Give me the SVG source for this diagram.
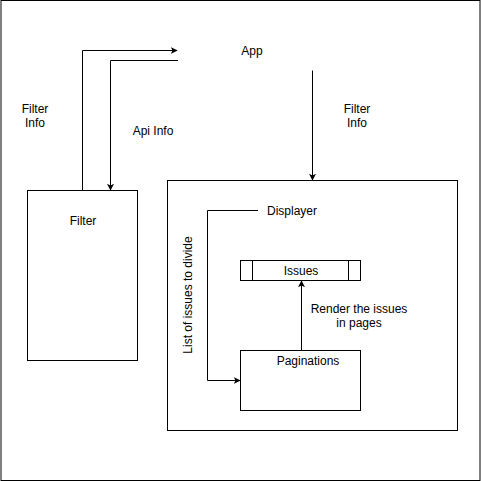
<svg xmlns="http://www.w3.org/2000/svg" width="481" height="481" viewBox="0 0 481 481">
  <style>
    .box { fill: #ffffff; stroke: #000000; stroke-width: 1; }
    .edge { fill: none; stroke: #000000; stroke-width: 1; }
    text { font-family: "Liberation Sans", Arial, Helvetica, sans-serif; font-size: 12px; fill: #000000; text-anchor: middle; }
  </style>
  <defs>
    <marker id="arrow" viewBox="0 0 10 10" refX="9" refY="5" markerWidth="7" markerHeight="7" markerUnits="userSpaceOnUse" orient="auto">
      <path d="M0,0 L10,5 L0,10 L2.5,5 Z" fill="#000000"/>
    </marker>
  </defs>

  <!-- page frame -->
  <rect x="1" y="0.5" width="479" height="480" fill="#ffffff" stroke="#000000"/>

  <!-- App -->
  <g id="app">
    <text x="252" y="55">App</text>
  </g>

  <!-- Filter -->
  <g id="filter">
    <rect class="box" x="27.5" y="190.5" width="110" height="170"/>
    <text x="83" y="225">Filter</text>
  </g>

  <!-- Displayer container -->
  <g id="displayer">
    <rect class="box" x="167.5" y="180.5" width="290" height="250"/>
    <text x="292" y="215">Displayer</text>
  </g>

  <!-- Issues -->
  <g id="issues">
    <rect class="box" x="240.5" y="260.5" width="120" height="20"/>
    <line class="edge" x1="252.5" y1="260.5" x2="252.5" y2="280.5"/>
    <line class="edge" x1="348.5" y1="260.5" x2="348.5" y2="280.5"/>
    <text x="301" y="274.5">Issues</text>
  </g>

  <!-- Paginations -->
  <g id="paginations">
    <rect class="box" x="240.5" y="350.5" width="120" height="60"/>
    <text x="308" y="365">Paginations</text>
  </g>

  <!-- connectors -->
  <g id="connectors">
    <!-- Filter -> App -->
    <path class="edge" d="M82.5,190.5 V50.5 H177" marker-end="url(#arrow)"/>
    <!-- App -> Filter -->
    <path class="edge" d="M178,60.5 H110.5 V190" marker-end="url(#arrow)"/>
    <!-- App -> Displayer -->
    <path class="edge" d="M312.5,70.5 V180" marker-end="url(#arrow)"/>
    <!-- Displayer -> Paginations -->
    <path class="edge" d="M258,210.5 H207.5 V380.5 H240" marker-end="url(#arrow)"/>
    <!-- Paginations -> Issues -->
    <path class="edge" d="M301.5,350.5 V281" marker-end="url(#arrow)"/>
  </g>

  <!-- connector labels -->
  <g id="labels">
    <text x="35" y="113">Filter</text>
    <text x="35" y="127">Info</text>
    <text x="153" y="135">Api Info</text>
    <text x="357" y="113">Filter</text>
    <text x="357" y="127">Info</text>
    <text x="359" y="313">Render the issues</text>
    <text x="359" y="327">in pages</text>
    <text transform="translate(192,295) rotate(-90)">List of issues to divide</text>
  </g>
</svg>
